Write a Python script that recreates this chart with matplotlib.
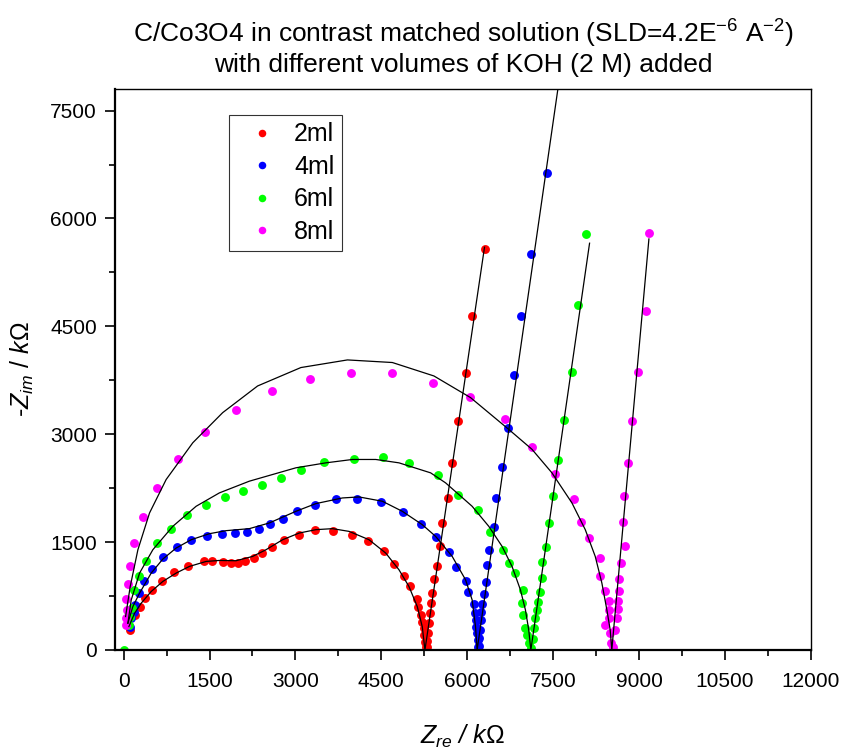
import numpy as np
import matplotlib
matplotlib.use("Agg")
from matplotlib import pyplot as plt

plt.rcParams['font.family'] = ['Liberation Sans', 'DejaVu Sans']
plt.rcParams['mathtext.fontset'] = 'custom'
plt.rcParams['mathtext.rm'] = 'Liberation Sans'
plt.rcParams['mathtext.it'] = 'Liberation Sans:italic'

# measured points, Z_re / -Z_im in kOhm
x_2ml = [105, 192, 279, 366, 494, 668, 883, 1127, 1399, 1550, 1730, 1881, 1997, 2125, 2270,
         2416, 2590, 2805, 3054, 3350, 3653, 3984, 4262, 4552, 4721, 4890, 5000, 5116, 5144,
         5186, 5214, 5238, 5249, 5261, 5273, 5296, 5304, 5318, 5339, 5353, 5371, 5392, 5426,
         5475, 5526, 5566, 5656, 5737, 5832, 5970, 6074, 6301]
y_2ml = [279, 488, 604, 720, 836, 966, 1083, 1171, 1241, 1241, 1222, 1208, 1208, 1231, 1273,
         1343, 1426, 1529, 1603, 1663, 1649, 1594, 1519, 1380, 1189, 1032, 883, 711, 595,
         488, 395, 302, 209, 116, 37, 42, 125, 237, 376, 516, 655, 799, 983,
         1174, 1447, 1761, 2109, 2593, 3188, 3847, 4642, 5576]

x_4ml = [105, 134, 174, 192, 267, 354, 499, 685, 929, 1185, 1458, 1719, 1939, 2155, 2357,
         2561, 2775, 3036, 3339, 3705, 4082, 4500, 4872, 5186, 5458, 5684, 5801, 5970, 6016,
         6114, 6132, 6144, 6161, 6172, 6184, 6190, 6205, 6212, 6220, 6235, 6248, 6259, 6289,
         6329, 6346, 6387, 6468, 6510, 6608, 6712, 6817, 6933, 7119, 7386]
y_4ml = [325, 441, 534, 627, 790, 953, 1125, 1292, 1426, 1529, 1589, 1612, 1626, 1645, 1682,
         1747, 1822, 1928, 2017, 2095, 2101, 2053, 1914, 1752, 1571, 1356, 1147, 966, 813,
         637, 512, 418, 325, 233, 139, 46, 60, 160, 280, 420, 534, 641, 776,
         943, 1185, 1394, 1710, 2109, 2547, 3081, 3820, 4638, 5506, 6635]

x_6ml = [0, 93, 116, 151, 180, 261, 383, 575, 824, 1115, 1440, 1771, 2085, 2409, 2747,
         3101, 3507, 4018, 4524, 4982, 5487, 5841, 6184, 6393, 6625, 6724, 6834, 6980, 6956,
         6968, 7015, 7043, 7073, 7120, 7150, 7170, 7189, 7218, 7235, 7276, 7311, 7311, 7381,
         7427, 7497, 7584, 7688, 7834, 7932, 8066]
y_6ml = [0, 348, 465, 581, 836, 1022, 1241, 1482, 1687, 1878, 2017, 2124, 2217, 2300, 2393,
         2500, 2611, 2649, 2690, 2597, 2430, 2161, 1947, 1641, 1390, 1208, 1069, 841, 659,
         488, 302, 209, 93, 30, 150, 300, 441, 558, 674, 804, 999, 1222, 1436,
         1766, 2147, 2644, 3192, 3871, 4800, 5790]

x_8ml = [35, 46, 58, 46, 75, 105, 180, 337, 587, 946, 1417, 1963, 2584, 3258, 3966,
         4692, 5395, 6039, 6654, 7130, 7525, 7869, 7991, 8130, 8309, 8309, 8396, 8478, 8478,
         8466, 8408, 8495, 8512, 8540, 8571, 8611, 8640, 8640, 8652, 8652, 8675, 8750, 8727,
         8739, 8814, 8884, 8977, 9116, 9168]
y_8ml = [348, 441, 558, 706, 920, 1171, 1482, 1850, 2249, 2658, 3025, 3341, 3597, 3768, 3847,
         3852, 3712, 3513, 3206, 2816, 2440, 2100, 1775, 1557, 1273, 1032, 827, 687, 558,
         441, 348, 232, 93, 40, 279, 441, 567, 687, 822, 990, 1208, 1440, 1784,
         2147, 2602, 3183, 3862, 4708, 5795]

# fitted curves (equivalent circuit)
fx_2ml = [93, 192, 308, 482, 685, 917, 1150, 1440, 1672, 1963, 2253, 2486, 2776, 3066, 3356,
          3647, 3937, 4285, 4576, 4808, 4982, 5127, 5214, 5261, 6301]
fy_2ml = [325, 511, 651, 813, 953, 1069, 1162, 1231, 1245, 1241, 1301, 1394, 1533, 1626, 1673,
          1687, 1649, 1533, 1348, 1115, 883, 604, 325, 0, 5600]

fx_4ml = [75, 162, 279, 482, 685, 917, 1179, 1498, 1788, 2195, 2543, 3008, 3356, 3821, 4111,
          4518, 4866, 5214, 5447, 5737, 5970, 6085, 6144, 6172, 7600]
fy_4ml = [372, 604, 790, 1069, 1264, 1417, 1533, 1617, 1659, 1687, 1766, 1928, 2035, 2114, 2128,
          2068, 1928, 1743, 1580, 1301, 976, 697, 325, 0, 7900]

fx_6ml = [75, 134, 279, 511, 859, 1266, 1672, 2195, 3008, 3531, 3995, 4402, 4808, 5360, 5621,
          6085, 6376, 6608, 6782, 6928, 7015, 7073, 7110, 8135]
fy_6ml = [372, 697, 1069, 1394, 1719, 1998, 2184, 2347, 2533, 2602, 2649, 2649, 2602, 2463, 2324,
          1998, 1719, 1440, 1161, 836, 558, 279, 0, 5656]

fx_8ml = [35, 116, 250, 453, 743, 1208, 1730, 2340, 3095, 3908, 4692, 5418, 6057, 6724, 7130,
          7478, 7827, 8060, 8234, 8350, 8437, 8495, 8523, 9171]
fy_8ml = [465, 883, 1394, 1905, 2370, 2881, 3300, 3671, 3927, 4033, 3997, 3810, 3509, 3067, 2790,
          2463, 2045, 1673, 1301, 930, 558, 279, 0, 5715]

labels = ['2ml', '4ml', '6ml', '8ml']
colors = ['#ff0000', '#0000ff', '#00ff00', '#ff00ff']

fig = plt.figure(figsize=(8.43, 7.51), dpi=100)
ax = fig.add_axes([0.1364, 0.1345, 0.962 - 0.1364, 0.8815 - 0.1345])

pts = [(x_2ml, y_2ml), (x_4ml, y_4ml), (x_6ml, y_6ml), (x_8ml, y_8ml)]
fits = [(fx_2ml, fy_2ml), (fx_4ml, fy_4ml), (fx_6ml, fy_6ml), (fx_8ml, fy_8ml)]

for (px, py), lab, c in zip(pts, labels, colors):
    ax.plot(px, py, 'o', color=c, markersize=6.4, markeredgewidth=0, label=lab, zorder=2)
for fx, fy in fits:
    ax.plot(fx, fy, '-', color='black', linewidth=0.9, zorder=3)

ax.set_xlim(-150, 12000)
ax.set_ylim(0, 7800)
ax.set_xticks(np.arange(0, 12001, 1500))
ax.set_yticks(np.arange(0, 7501, 1500))
ax.set_xticks(np.arange(750, 12000, 1500), minor=True)
ax.set_yticks(np.arange(750, 7800, 1500), minor=True)
ax.tick_params(which='major', length=7, width=1.2, labelsize=15)
ax.tick_params(which='minor', length=4.5, width=1.2)
ax.tick_params(axis='x', which='major', pad=9)
ax.tick_params(axis='y', which='major', pad=6)
for s in ['left', 'bottom']:
    ax.spines[s].set_linewidth(1.6)
for s in ['right', 'top']:
    ax.spines[s].set_linewidth(1.0)

ax.set_xlabel(r'$Z_{re}$ / $k\Omega$', fontsize=18, style='italic', labelpad=23)
ax.set_ylabel(r'-$Z_{im}$ / $k\Omega$', fontsize=18, labelpad=10)
ax.set_title('C/Co3O4 in contrast matched solution (SLD=4.2E$^{-6}$ A$^{-2}$)\n'
             'with different volumes of KOH (2 M) added', fontsize=19, pad=12, linespacing=1.2)

leg = ax.legend(loc='upper left', bbox_to_anchor=(0.164, 0.954), fontsize=18, frameon=True,
                fancybox=False, edgecolor='black', markerscale=0.85, handletextpad=0.3,
                labelspacing=0.34, borderpad=0.3, handlelength=2.0, borderaxespad=0)
leg.get_frame().set_linewidth(0.8)

fig.savefig('out.png', dpi=100)
